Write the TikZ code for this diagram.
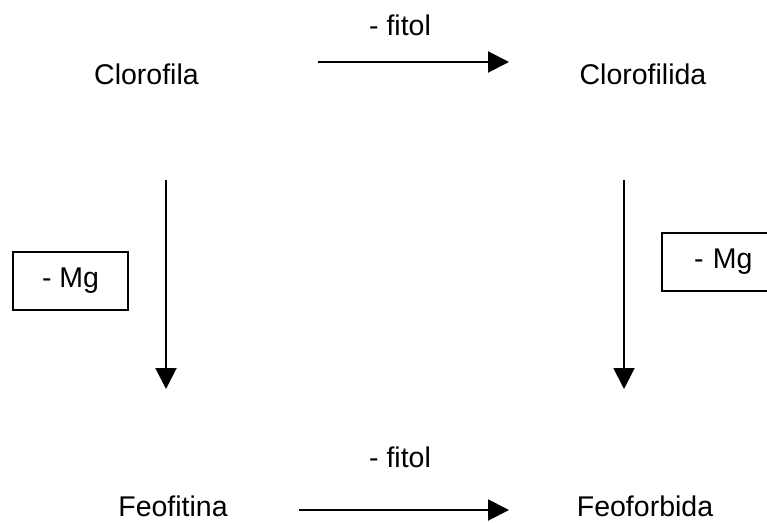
\documentclass[tikz,border=0pt]{standalone}
\usepackage{fontspec}
\setmainfont{Liberation Sans}
\usetikzlibrary{arrows.meta}
\begin{document}
\begin{tikzpicture}[x=1pt,y=-1pt,
  label/.style={font=\fontsize{28.5}{34}\selectfont, anchor=base, inner sep=0pt},
  flow/.style={line width=2pt, -{Triangle[length=21pt,width=21pt]}},
  tagbox/.style={draw, line width=2pt, minimum width=115pt, minimum height=58pt,
    inner sep=0pt, font=\fontsize{28.5}{34}\selectfont}]
\useasboundingbox (0,0) rectangle (767,522);
\clip (0,0) rectangle (767,522);

% compounds
\node[label] (clf) at (146.5,84) {Clorofila};
\node[label] (cld) at (643,84) {Clorofilida};
\node[label] (fft) at (173,516) {Feofitina};
\node[label] (ffb) at (645,516) {Feoforbida};

% reaction labels
\node[label] (fitA) at (400,35) {- fitol};
\node[label] (fitB) at (400,467) {- fitol};
\node[tagbox] (mgA) at (70.5,281) {- Mg};
\node[tagbox, minimum width=130pt, text width=90pt, align=left] (mgB) at (727,261.5) {\hspace*{12pt}- Mg};

% arrow ends
\coordinate (a1) at (318,62);  \coordinate (a2) at (509,62);
\coordinate (b1) at (299,510); \coordinate (b2) at (509,510);
\coordinate (c1) at (166,180); \coordinate (c2) at (166,389);
\coordinate (d1) at (624,180); \coordinate (d2) at (624,389);

\draw[flow] (a1) -- (a2);
\draw[flow] (b1) -- (b2);
\draw[flow] (c1) -- (c2);
\draw[flow] (d1) -- (d2);
\end{tikzpicture}
\end{document}
